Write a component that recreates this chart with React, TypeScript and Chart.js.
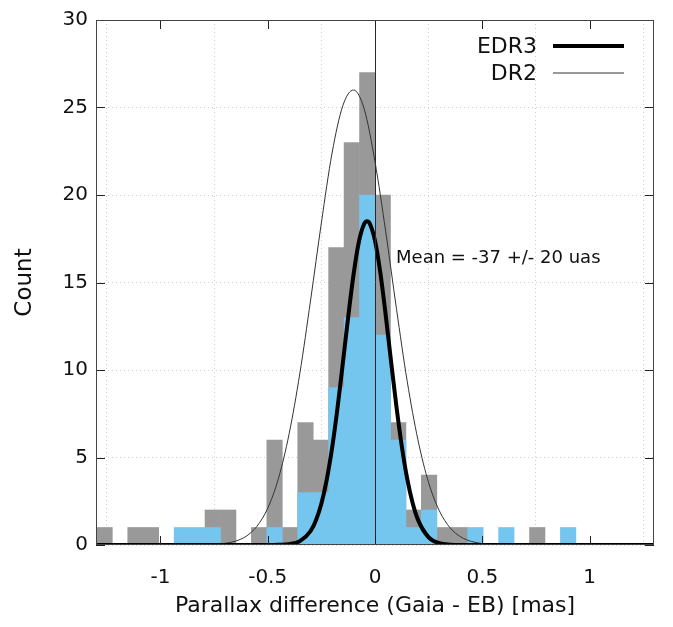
import React, { useEffect, useRef } from 'react';
import { Chart, registerables } from 'chart.js';

Chart.register(...registerables);

// Histogram bins (bin centres, mas) and counts
const binCenters = [
  -1.26, -1.188, -1.116, -1.044, -0.972, -0.9, -0.828, -0.756, -0.684, -0.612,
  -0.54, -0.468, -0.396, -0.324, -0.252, -0.18, -0.108, -0.036, 0.036, 0.108,
  0.18, 0.252, 0.324, 0.396, 0.468, 0.54, 0.612, 0.684, 0.756, 0.828, 0.9,
];
const dr2Counts = [
  1, 0, 1, 1, 0, 0, 0, 2, 2, 0,
  1, 6, 1, 7, 6, 17, 23, 27, 20, 7,
  2, 4, 1, 1, 0, 0, 0, 0, 1, 0, 0,
];
const edr3Counts = [
  0, 0, 0, 0, 0, 1, 1, 1, 0, 0,
  0, 1, 0, 3, 3, 9, 13, 20, 12, 6,
  1, 2, 0, 0, 1, 0, 1, 0, 0, 0, 1,
];

// Fitted curves
const edr3CurveX = [
  -1.3, -0.5, -0.45, -0.4, -0.35, -0.3, -0.275, -0.25, -0.225, -0.2, -0.175, -0.15,
  -0.125, -0.1, -0.075, -0.05, -0.037, -0.025, 0, 0.025, 0.05, 0.075, 0.1, 0.125,
  0.15, 0.175, 0.2, 0.25, 0.3, 0.35, 0.4, 1.3,
];
const edr3CurveY = [
  0, 0, 0.01, 0.05, 0.22, 0.8, 1.42, 2.36, 3.72, 5.54, 7.8, 10.37,
  13.02, 15.45, 17.33, 18.36, 18.5, 18.38, 17.39, 15.54, 13.12, 10.47, 7.9, 5.63,
  3.79, 2.41, 1.45, 0.44, 0.11, 0.02, 0, 0,
];
const dr2CurveX = [
  -1.3, -0.8, -0.7, -0.65, -0.6, -0.55, -0.5, -0.45, -0.4, -0.35, -0.3, -0.25,
  -0.2, -0.15, -0.1, -0.05, 0, 0.05, 0.1, 0.15, 0.2, 0.25, 0.3, 0.35, 0.4, 0.45,
  0.5, 0.6, 1.3,
];
const dr2CurveY = [
  0, 0.01, 0.09, 0.22, 0.5, 1.07, 2.1, 3.8, 6.36, 9.82, 14.0, 18.4,
  22.4, 25.1, 26.0, 24.9, 21.9, 17.9, 13.5, 9.36, 6.01, 3.56, 1.95, 0.98, 0.46, 0.2,
  0.08, 0.01, 0,
];

const seriesLabels = ['EDR3', 'DR2'];
const annotationText = 'Mean = -37 +/- 20 uas';
const annotationAt = { x: 0.098, y: 16.4 };
const xTitle = 'Parallax difference (Gaia - EB) [mas]';
const yTitle = 'Count';

const FONT = "'DejaVu Sans', sans-serif";

const decorPlugin = {
  id: 'decor',
  afterDatasetsDraw(chart: any) {
    const { ctx, chartArea: a, scales } = chart;
    const x = scales.x;
    const y = scales.y;
    ctx.save();
    const line = (x1: number, y1: number, x2: number, y2: number) => {
      ctx.beginPath();
      ctx.moveTo(x1, y1);
      ctx.lineTo(x2, y2);
      ctx.stroke();
    };
    // zero line
    ctx.strokeStyle = '#2a2a2a';
    ctx.lineWidth = 1;
    const x0 = Math.round(x.getPixelForValue(0)) + 0.5;
    line(x0, a.top, x0, a.bottom);
    // inward ticks
    ctx.strokeStyle = '#222';
    const len = 9;
    y.ticks.forEach((t: any) => {
      const py = Math.round(y.getPixelForValue(t.value)) + 0.5;
      line(a.left, py, a.left + len, py);
      line(a.right - len, py, a.right, py);
    });
    x.ticks.forEach((t: any) => {
      const px = Math.round(x.getPixelForValue(t.value)) + 0.5;
      line(px, a.bottom, px, a.bottom - len);
      line(px, a.top, px, a.top + len);
    });
    // frame
    ctx.strokeStyle = '#444';
    ctx.strokeRect(a.left + 0.5, a.top + 0.5, a.width - 1, a.height - 1);

    // legend
    ctx.fillStyle = '#111';
    ctx.font = `22px ${FONT}`;
    ctx.textAlign = 'right';
    ctx.textBaseline = 'middle';
    const ds = chart.data.datasets;
    const entries = [ds[0], ds[1]];
    entries.forEach((d: any, i: number) => {
      const ty = a.top + 26 + i * 27;
      ctx.fillText(d.label, a.right - 117, ty + 1);
      ctx.strokeStyle = d.borderColor;
      ctx.lineWidth = d.borderWidth;
      line(a.right - 101, ty, a.right - 30, ty);
    });

    // annotation
    ctx.fillStyle = '#111';
    ctx.font = `18px ${FONT}`;
    ctx.textAlign = 'left';
    ctx.textBaseline = 'middle';
    ctx.fillText(annotationText, x.getPixelForValue(annotationAt.x), y.getPixelForValue(annotationAt.y));
    ctx.restore();
  },
};

export default function App() {
  const ref = useRef<HTMLCanvasElement | null>(null);
  useEffect(() => {
    if (!ref.current) return;
    const chart = new Chart(ref.current, {
      type: 'bar',
      data: {
        datasets: [
          {
            type: 'line',
            label: seriesLabels[0],
            data: edr3CurveX.map((v, i) => ({ x: v, y: edr3CurveY[i] })),
            borderColor: '#000000',
            borderWidth: 4,
            pointRadius: 0,
            cubicInterpolationMode: 'monotone',
            fill: false,
            order: 0,
          } as any,
          {
            type: 'line',
            label: seriesLabels[1],
            data: dr2CurveX.map((v, i) => ({ x: v, y: dr2CurveY[i] })),
            borderColor: '#333333',
            borderWidth: 1,
            pointRadius: 0,
            cubicInterpolationMode: 'monotone',
            fill: false,
            order: 1,
          } as any,
          {
            type: 'bar',
            label: 'EDR3 hist',
            data: binCenters.map((v, i) => ({ x: v, y: edr3Counts[i] })),
            backgroundColor: '#75c6ef',
            borderWidth: 0,
            barPercentage: 1,
            categoryPercentage: 1,
            grouped: false,
            order: 2,
          } as any,
          {
            type: 'bar',
            label: 'DR2 hist',
            data: binCenters.map((v, i) => ({ x: v, y: dr2Counts[i] })),
            backgroundColor: '#999999',
            borderWidth: 0,
            barPercentage: 1,
            categoryPercentage: 1,
            grouped: false,
            order: 3,
          } as any,
        ],
      },
      options: {
        responsive: false,
        animation: false,
        devicePixelRatio: 1,
        layout: { padding: { left: 0, right: 19, top: 15, bottom: 0 } },
        plugins: { legend: { display: false }, tooltip: { enabled: false } },
        scales: {
          x: {
            type: 'linear',
            min: -1.3,
            max: 1.3,
            offset: false,
            ticks: {
              stepSize: 0.5,
              includeBounds: false,
              color: '#111',
              font: { family: FONT, size: 20 },
              padding: 21,
              maxRotation: 0,
              callback: (v: any) => String(Math.round(Number(v) * 10) / 10),
            },
            grid: { color: '#cfcfcf', lineWidth: 1, drawTicks: false },
            border: { display: false, dash: [1, 3] },
            title: {
              display: true,
              text: xTitle,
              color: '#111',
              font: { family: FONT, size: 22 },
              padding: { top: 0, bottom: 8 },
            },
            afterFit: (s: any) => {
              s.height = 82;
            },
          },
          y: {
            type: 'linear',
            min: 0,
            max: 30,
            ticks: {
              stepSize: 5,
              color: '#111',
              font: { family: FONT, size: 20 },
              padding: 8,
            },
            grid: { color: '#cfcfcf', lineWidth: 1, drawTicks: false },
            border: { display: false, dash: [1, 3] },
            title: {
              display: true,
              text: yTitle,
              color: '#111',
              font: { family: FONT, size: 23 },
              padding: { top: 11, bottom: 0 },
            },
            afterFit: (s: any) => {
              s.width = 96;
            },
          },
        },
      } as any,
      plugins: [decorPlugin],
    });
    return () => chart.destroy();
  }, []);

  return (
    <div style={{ position: 'absolute', left: 0, top: 0, width: 673, height: 627, background: '#fff' }}>
      <canvas ref={ref} width={673} height={627} style={{ display: 'block' }} />
    </div>
  );
}
